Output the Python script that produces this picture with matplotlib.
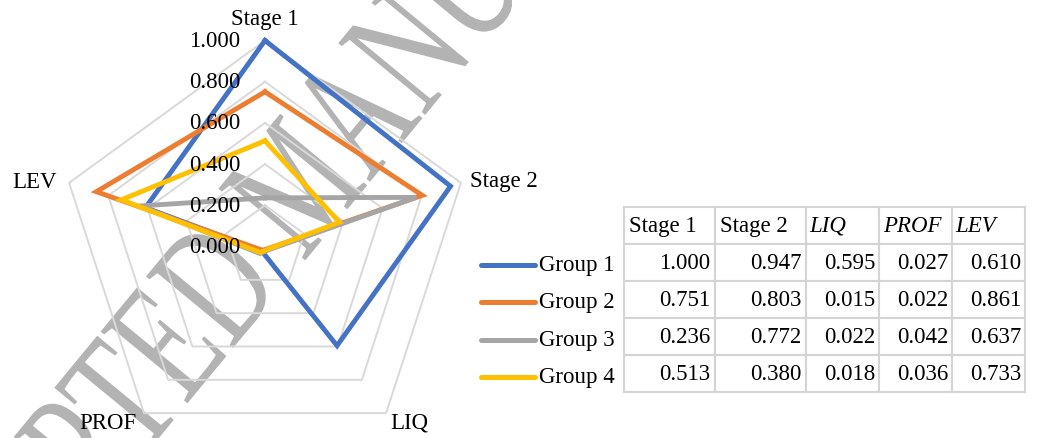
import matplotlib
matplotlib.use("Agg")
import matplotlib.pyplot as plt
import numpy as np
from matplotlib.textpath import TextPath
from matplotlib.patches import PathPatch
from matplotlib.font_manager import FontProperties
from matplotlib.transforms import Affine2D

plt.rcParams['font.family'] = ['Liberation Serif', 'DejaVu Serif']

categories = ['Stage 1', 'Stage 2', 'LIQ', 'PROF', 'LEV']
groups = ['Group 1', 'Group 2', 'Group 3', 'Group 4']
group1 = [1.000, 0.947, 0.595, 0.027, 0.610]
group2 = [0.751, 0.803, 0.015, 0.022, 0.861]
group3 = [0.236, 0.772, 0.022, 0.042, 0.637]
group4 = [0.513, 0.380, 0.018, 0.036, 0.733]
ticks = [0.0, 0.2, 0.4, 0.6, 0.8, 1.0]

series = [group1, group2, group3, group4]
colors = ['#4472C4', '#ED7D31', '#A5A5A5', '#FFC000']
fs = 16.5

W, H = 1037, 439
fig = plt.figure(figsize=(W / 100, H / 100), dpi=100)

# watermark layer (pixel units, y up)
wm = fig.add_axes([0, 0, 1, 1], zorder=0)
wm.set_xlim(0, W)
wm.set_ylim(0, H)
wm.axis('off')
tp = TextPath((0, 0), 'ACCEPTED MANUSCRIPT', size=1,
              prop=FontProperties(family='Liberation Serif'))
tr = Affine2D().scale(117, 172).rotate_deg(50.5).translate(-100, -314)
wm.add_patch(PathPatch(tr.transform_path(tp), facecolor='#b3b3b3', edgecolor='none'))

# pixel-space layer for legend and table (y down)
bg = fig.add_axes([0, 0, 1, 1], zorder=1)
bg.patch.set_alpha(0)
bg.set_xlim(0, W)
bg.set_ylim(H, 0)
bg.axis('off')

# radar axes, 1 unit = R pixels, centre at (cx, cy)
cx, cy, R = 265, 247.5, 206
aw = 600
rad = fig.add_axes([0, 0, aw / W, 1], zorder=2)
rad.patch.set_alpha(0)
rad.set_xlim(-cx / R, (aw - cx) / R)
rad.set_ylim(-(H - cy) / R, cy / R)
rad.axis('off')

n = len(categories)
ang = np.pi / 2 - np.arange(n) * 2 * np.pi / n
ang_c = np.append(ang, ang[0])

for t in ticks[1:]:
    rad.plot(t * np.cos(ang_c), t * np.sin(ang_c), color='#d9d9d9', lw=1.4, zorder=1)

for vals, c in zip(series, colors):
    v = np.append(vals, vals[0])
    rad.plot(v * np.cos(ang_c), v * np.sin(ang_c), color=c, lw=3.5,
             solid_joinstyle='miter', zorder=3)

for t in ticks:
    rad.annotate(f'{t:.3f}', (0, t), xytext=(-25, 0), textcoords='offset pixels',
                 ha='right', va='center', fontsize=fs, zorder=4)

# category labels: offset (pixels) and alignment per spoke
lab_pos = [((0, 22), 'center'), ((9, 2), 'left'), ((4, -9), 'left'),
           ((-7, -9), 'right'), ((-12, 1), 'right')]
for name, a, (off, ha) in zip(categories, ang, lab_pos):
    rad.annotate(name, (np.cos(a), np.sin(a)), xytext=off, textcoords='offset pixels',
                 ha=ha, va='center', fontsize=fs)

# table
col_x = [624, 715, 806, 879, 952, 1025]
row_y = [208, 244, 281, 319, 356, 393]
widths = [(col_x[i + 1] - col_x[i]) / W for i in range(n)]
cell_text = [[f'{v:.3f}' for v in g] for g in series]
tbl = bg.table(cellText=cell_text, colLabels=categories, cellLoc='right', colLoc='left',
               colWidths=widths,
               bbox=[col_x[0] / W, 1 - row_y[-1] / H, (col_x[-1] - col_x[0]) / W,
                     (row_y[-1] - row_y[0]) / H])
tbl.auto_set_font_size(False)
tbl.set_fontsize(fs)
for (r, c), cell in tbl.get_celld().items():
    cell.set_edgecolor('#d4d4d4')
    cell.set_linewidth(1.5)
    cell.PAD = 0.05
    if r == 0 and c >= 2:
        cell.get_text().set_style('italic')

# legend keys to the left of the table rows
for i, (g, c) in enumerate(zip(groups, colors)):
    y = (row_y[i + 1] + row_y[i + 2]) / 2 + 3
    bg.plot([481, 535], [y, y], color=c, lw=3.6, solid_capstyle='round')
    bg.text(539, y, g, ha='left', va='center', fontsize=fs)

fig.savefig('out.png', dpi=100)
